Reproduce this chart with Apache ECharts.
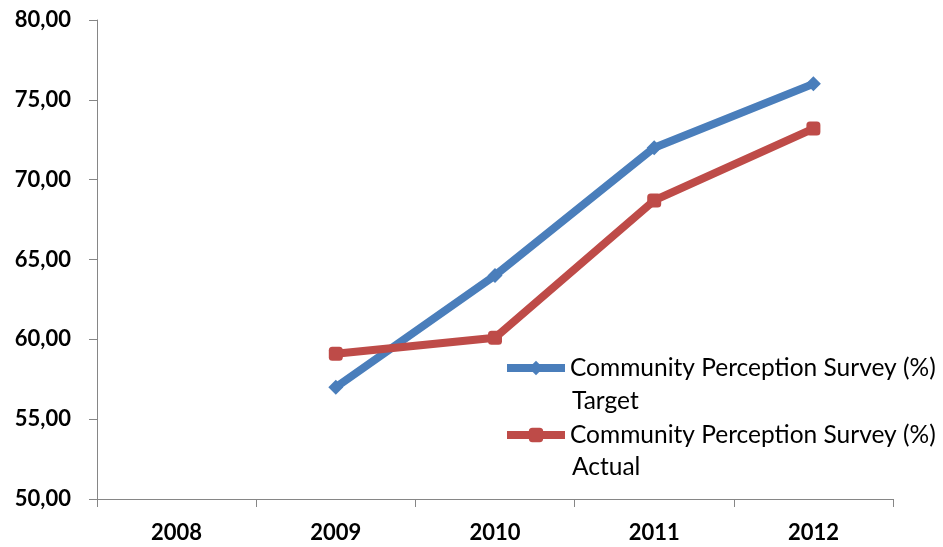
<!DOCTYPE html>
<html><head><meta charset="utf-8">
<script src="https://cdn.jsdelivr.net/npm/echarts@6/dist/echarts.min.js"></script>
<style>html,body{margin:0;padding:0;background:#fff}#c{width:943px;height:547px}</style>
</head><body><div id="c"></div>
<script>
const categories = ['2008', '2009', '2010', '2011', '2012'];
const targetValues = [null, 57.0, 64.0, 72.0, 76.0];
const actualValues = [null, 59.1, 60.1, 68.7, 73.2];
const seriesNames = ['Community Perception Survey (%) Target', 'Community Perception Survey (%) Actual'];
const legendLine1 = 'Community Perception Survey (%)';
const legendLine2 = ['Target', 'Actual'];

const chart = echarts.init(document.getElementById('c'));
const FONT = 'Lato';
chart.setOption({
  animation: false,
  grid: {left: 97, right: 50, top: 20, bottom: 48, containLabel: false},
  xAxis: {
    type: 'category', data: categories, boundaryGap: true,
    axisLine: {lineStyle: {color: '#868686', width: 1}},
    axisTick: {show: true, length: 8, lineStyle: {color: '#868686'}},
    axisLabel: {margin: 23, color: '#000', fontFamily: FONT, fontWeight: 'bold', fontSize: 22}
  },
  yAxis: {
    type: 'value', min: 50, max: 80, interval: 5,
    axisLine: {show: true, lineStyle: {color: '#868686', width: 1}},
    axisTick: {show: true, length: 8, lineStyle: {color: '#868686'}},
    splitLine: {show: false},
    axisLabel: {margin: 26, color: '#000', fontFamily: FONT, fontWeight: 'bold', fontSize: 22,
      formatter: v => v.toFixed(2).replace('.', ',')}
  },
  legend: {
    orient: 'vertical', left: 498, top: 347, padding: 5, itemGap: 35, itemWidth: 58, itemHeight: 18,
    data: seriesNames,
    formatter: () => legendLine1,
    lineStyle: {width: 8},
    textStyle: {fontFamily: FONT, fontSize: 24.5, color: '#000', lineHeight: 32}
  },
  graphic: [
    {type: 'text', x: 572, y: 401, style: {text: legendLine2[0], font: '24.5px Lato', fill: '#000', verticalAlign: 'middle'}},
    {type: 'text', x: 572, y: 467, style: {text: legendLine2[1], font: '24.5px Lato', fill: '#000', verticalAlign: 'middle'}}
  ],
  series: [
    {name: seriesNames[0], type: 'line', data: targetValues, symbol: 'diamond', symbolSize: 15,
      lineStyle: {color: '#4A7EBB', width: 8}, itemStyle: {color: '#4A7EBB'}},
    {name: seriesNames[1], type: 'line', data: actualValues, symbol: 'roundRect', symbolSize: 14,
      lineStyle: {color: '#BE4B48', width: 8}, itemStyle: {color: '#BE4B48'}}
  ]
});
</script></body></html>
